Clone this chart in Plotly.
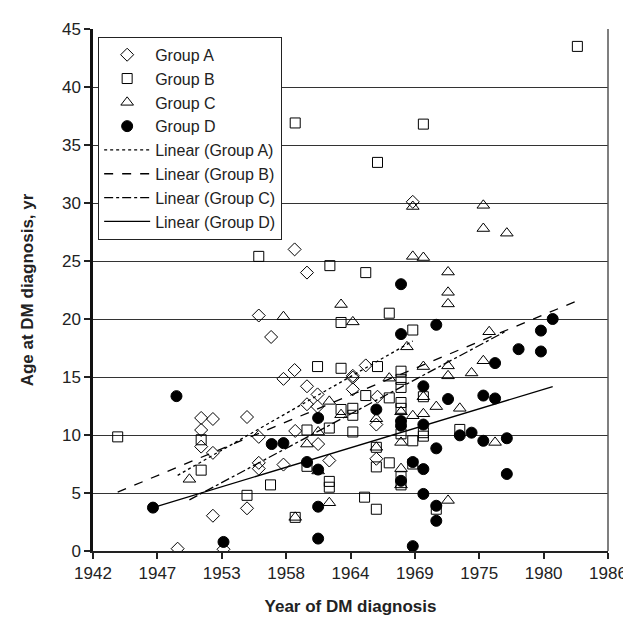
import numpy as np
import plotly.graph_objects as go

# ---------------- data (decimal years, age in years) ----------------
a_year = [1949.5, 1951.5, 1952.5, 1951.5, 1951.5, 1952.5, 1952.5, 1953.4, 1955.4, 1955.4,
          1956.4, 1956.4, 1956.4, 1958.5, 1959.5, 1961.45, 1962.4, 1966.4, 1966.4, 1956.4,
          1957.45, 1959.45, 1960.5, 1959.45, 1958.5, 1960.5, 1961.4, 1960.5, 1961.4, 1965.5,
          1964.4, 1964.4, 1964.4, 1966.5, 1969.5]
a_age = [0.2, 11.47, 11.38, 10.43, 9.0, 8.46, 3.04, 0.15, 11.55, 3.68,
         9.84, 7.6, 7.1, 7.45, 10.35, 9.22, 7.8, 7.95, 10.9, 20.3,
         18.45, 26.0, 24.0, 15.6, 14.84, 14.2, 13.5, 12.65, 12.45, 16.0,
         15.1, 14.95, 13.94, 13.3, 30.1]

b_year = [1944.4, 1951.5, 1951.5, 1955.4, 1957.4, 1959.5, 1960.5, 1960.5, 1962.4, 1962.4,
          1962.4, 1963.4, 1964.4, 1964.4, 1964.4, 1965.4, 1966.4, 1966.4, 1966.4, 1967.5,
          1967.5, 1968.5, 1968.5, 1968.5, 1968.5, 1968.5, 1968.5, 1968.5, 1968.5, 1969.5,
          1969.5, 1970.4, 1970.4, 1971.5, 1973.5, 1970.4, 1956.4, 1962.45, 1965.5, 1967.5,
          1963.4, 1969.5, 1961.4, 1963.4, 1966.5, 1965.5, 1959.5, 1970.4, 1966.5, 1983.5]
b_age = [9.84, 9.59, 6.97, 4.8, 5.7, 2.9, 10.43, 7.3, 6.0, 5.5,
         10.6, 12.2, 12.3, 11.7, 10.26, 4.64, 3.6, 8.94, 7.25, 7.6,
         13.2, 15.5, 14.8, 14.1, 12.8, 12.3, 10.1, 6.4, 5.7, 9.5,
         7.5, 10.2, 9.9, 3.6, 10.48, 13.3, 25.4, 24.6, 24.0, 20.5,
         19.7, 19.05, 15.9, 15.75, 15.9, 13.4, 36.9, 36.8, 33.5, 43.5]

c_year = [1950.5, 1959.5, 1960.5, 1961.45, 1961.45, 1962.4, 1963.4, 1966.4, 1966.4, 1962.4,
          1968.5, 1968.5, 1968.5, 1968.5, 1969.5, 1970.4, 1972.5, 1971.5, 1973.5, 1976.5,
          1975.5, 1977.5, 1970.4, 1969.5, 1972.5, 1972.5, 1972.5, 1976.0, 1975.5, 1970.4,
          1972.5, 1972.5, 1974.5, 1970.4, 1963.4, 1958.5, 1964.4, 1969.0, 1967.5, 1969.5,
          1975.5]
c_age = [6.18, 2.9, 9.22, 10.26, 6.9, 4.16, 11.75, 8.94, 11.4, 12.9,
         12.0, 9.36, 7.1, 5.7, 11.66, 11.83, 4.36, 12.45, 12.3, 9.36,
         27.8, 27.4, 25.3, 25.4, 24.05, 22.3, 21.3, 18.9, 16.4, 15.9,
         15.96, 15.1, 15.35, 13.3, 21.25, 20.2, 19.75, 17.6, 14.9, 29.7,
         29.8]

d_year = [1949.4, 1947.4, 1953.4, 1957.5, 1958.5, 1960.5, 1961.45, 1961.45, 1961.45, 1961.45,
          1966.4, 1968.5, 1968.5, 1968.5, 1969.5, 1969.5, 1970.4, 1970.4, 1970.4, 1971.5,
          1971.5, 1971.5, 1972.5, 1973.5, 1974.5, 1975.5, 1977.5, 1977.5, 1975.5, 1976.5,
          1971.5, 1981.4, 1980.4, 1978.5, 1980.4, 1976.5, 1970.4, 1968.5, 1968.5]
d_age = [13.35, 3.74, 0.78, 9.22, 9.3, 7.67, 11.47, 7.02, 3.82, 1.07,
         12.2, 11.2, 10.8, 6.05, 7.67, 0.42, 10.9, 7.06, 4.92, 8.85,
         3.9, 2.6, 13.1, 9.97, 10.2, 9.5, 9.72, 6.64, 13.4, 13.15,
         19.5, 20.0, 19.0, 17.4, 17.2, 16.2, 14.2, 23.0, 18.7]

# linear trend lines: slope (yr/yr) and value at 1960
trend_slope = [0.579, 0.422, 0.540, 0.3065]
trend_at_1960 = [12.6, 11.66, 9.54, 7.61]

x_tick_labels = ["1942", "1947", "1953", "1958", "1964", "1969", "1975", "1980", "1986"]
y_tick_values = [0, 5, 10, 15, 20, 25, 30, 35, 40, 45]

# axis built like an Excel date axis: ticks every 2000 days
x_start = 1942.3
x_step = 2000 / 365.25
x_tick_vals = [x_start + i * x_step for i in range(len(x_tick_labels))]

FONT = "Arial, Liberation Sans, sans-serif"

fig = go.Figure()

groups = [
    ("Group A", a_year, a_age, dict(symbol="diamond-open", size=10)),
    ("Group B", b_year, b_age, dict(symbol="square-open", size=10)),
    ("Group C", c_year, c_age, dict(symbol="triangle-up-open", size=11)),
    ("Group D", d_year, d_age, dict(symbol="circle", size=11)),
]
for i, (name, xs, ys, mk) in enumerate(groups):
    fig.add_trace(go.Scatter(
        x=xs, y=ys, mode="markers", name=name,
        marker=dict(color="black", line=dict(color="black", width=1), **mk),
    ))

dashes = ["dot", "dash", "dashdot", "solid"]
for i, ((name, xs, ys, mk), dsh) in enumerate(zip(groups, dashes)):
    lx = np.array([min(xs), max(xs)])
    ly = trend_at_1960[i] + trend_slope[i] * (lx - 1960)
    fig.add_trace(go.Scatter(
        x=lx, y=ly, mode="lines", name=f"Linear ({name})",
        line=dict(color="black", width=1.3, dash=dsh),
    ))

fig.update_layout(
    width=631, height=617,
    margin=dict(l=85, r=19, t=17, b=66),
    paper_bgcolor="white", plot_bgcolor="white",
    font=dict(family=FONT, size=17, color="#222"),
    showlegend=True,
    legend=dict(
        x=0.01, y=0.985, xanchor="left", yanchor="top",
        bgcolor="white", bordercolor="#222", borderwidth=1,
        font=dict(size=16, color="#222"),
        itemwidth=46,
    ),
    xaxis=dict(
        range=[x_tick_vals[0], x_tick_vals[-1]],
        tickmode="array", tickvals=x_tick_vals, ticktext=x_tick_labels,
        ticks="outside", ticklen=6, tickcolor="#222", tickwidth=1.5,
        showgrid=False, zeroline=False,
        showline=True, linecolor="#222", linewidth=1.5,
        title=dict(text="<b>Year of DM diagnosis</b>", font=dict(size=17), standoff=18),
    ),
    yaxis=dict(
        range=[0, 45], tickmode="array", tickvals=y_tick_values,
        ticks="outside", ticklen=6, tickcolor="#222", tickwidth=1.5,
        showgrid=True, gridcolor="#333", gridwidth=1,
        zeroline=False,
        showline=True, linecolor="#111", linewidth=2.5,
        title=dict(text="<b>Age at DM diagnosis, yr</b>", font=dict(size=17), standoff=24),
    ),
)
fig.add_shape(type="line", xref="paper", yref="paper", x0=1, x1=1, y0=0, y1=1,
              line=dict(color="#555", width=1.5))

fig.write_html("out.html")
